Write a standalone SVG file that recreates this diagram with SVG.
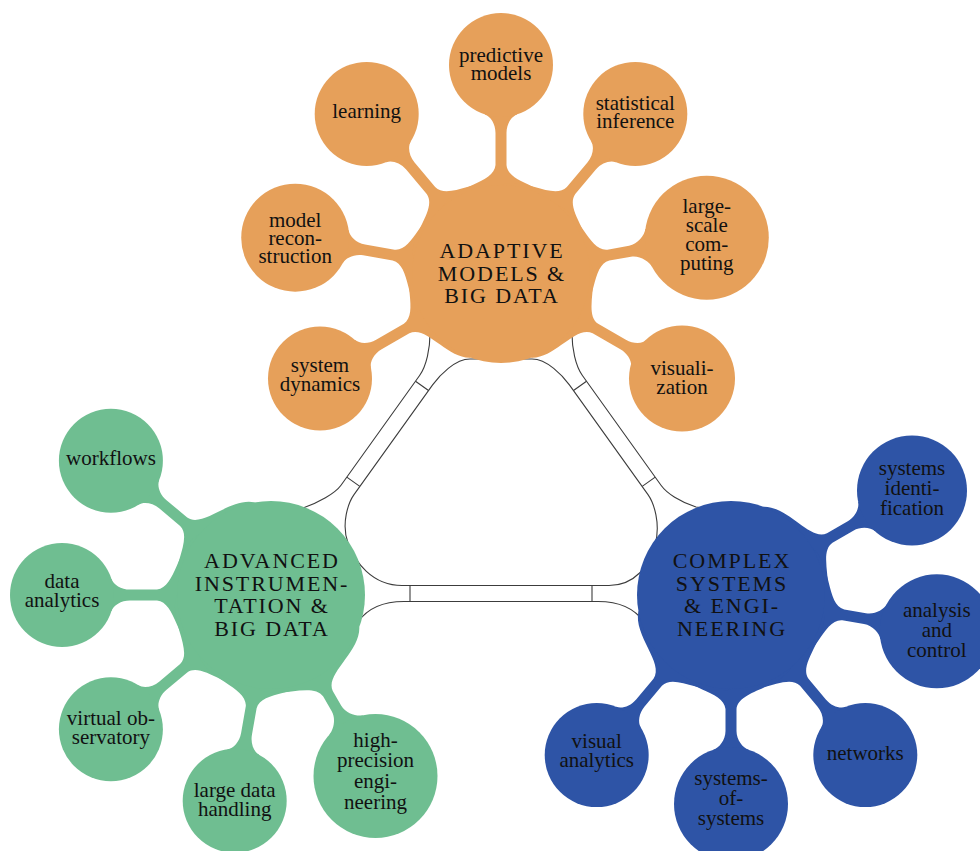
<svg xmlns="http://www.w3.org/2000/svg" width="980" height="851" viewBox="0 0 980 851">
<style>
.o{fill:#E6A05A}.g{fill:#6FBE91}.b{fill:#2E54A6}
.ln{fill:none;stroke:#3c3c3c;stroke-width:1.1}
.t{font-family:"Liberation Serif","Times New Roman",serif;font-size:21px;fill:#111;text-anchor:middle}
.h{font-size:22px;letter-spacing:1.9px}
</style>
<defs>
<path id="nO52" d="M0,0 L68.2,57.2 C89,46.3 90,7 109,5.5 L141,5.5 C150,5.5 157.6,10.4 159.5,16.1 L209,0 L159.5,-16.1 C157.6,-10.4 150,-5.5 141,-5.5 L109,-5.5 C90,-7 89,-46.3 68.2,-57.2 Z"/>
<path id="nO54" d="M0,0 L68.2,57.2 C89,46.3 90,7 109,5.5 L139,5.5 C148,5.5 155.8,11 157.6,16.7 L209,0 L157.6,-16.7 C155.8,-11 148,-5.5 139,-5.5 L109,-5.5 C90,-7 89,-46.3 68.2,-57.2 Z"/>
<path id="nO62" d="M0,0 L68.2,57.2 C89,46.3 90,7 109,5.5 L131,5.5 C140,5.5 148.2,13.5 150,19.2 L209,0 L150,-19.2 C148.2,-13.5 140,-5.5 131,-5.5 L109,-5.5 C90,-7 89,-46.3 68.2,-57.2 Z"/>
<path id="nH52" d="M0,0 L72,60.4 C94,48.9 95,7 114,5.5 L141,5.5 C150,5.5 157.6,10.4 159.5,16.1 L209,0 L159.5,-16.1 C157.6,-10.4 150,-5.5 141,-5.5 L114,-5.5 C95,-7 94,-48.9 72,-60.4 Z"/>
<path id="nH55" d="M0,0 L72,60.4 C94,48.9 95,7 114,5.5 L138,5.5 C147,5.5 154.8,11.3 156.7,17 L209,0 L156.7,-17 C154.8,-11.3 147,-5.5 138,-5.5 L114,-5.5 C95,-7 94,-48.9 72,-60.4 Z"/>
<path id="nH57" d="M0,0 L72,60.4 C94,48.9 95,7 114,5.5 L136,5.5 C145,5.5 152.9,11.9 154.8,17.6 L209,0 L154.8,-17.6 C152.9,-11.9 145,-5.5 136,-5.5 L114,-5.5 C95,-7 94,-48.9 72,-60.4 Z"/>
<path id="nH62" d="M0,0 L72,60.4 C94,48.9 95,7 114,5.5 L131,5.5 C140,5.5 148.2,13.5 150,19.2 L209,0 L150,-19.2 C148.2,-13.5 140,-5.5 131,-5.5 L114,-5.5 C95,-7 94,-48.9 72,-60.4 Z"/>
</defs>
<rect width="980" height="851" fill="#ffffff"/>
<g id="connectors">
  <g id="hub-bars" class="ln">
    <path d="M431,322 L430,334 C430,348 426.6,365.8 419.6,375.5 L341,485.3 C335.2,493.4 318,503 303,508 L296,510"/>
    <path d="M570,322 L572,334 C572,348 575.4,365.8 582.4,375.5 L661,485.3 C666.8,493.4 680,502 696,507 L704,508"/>
    <path d="M470,359 C455,359 439.6,375.2 432.6,384.9 L354,494.6 C348.2,502.7 341,524 348,543 C355,562 372,585.5 402,585.5 L609,585.5 C635,585.5 650,565 655,545 C661,524 653.8,502.7 648,494.6 L569.4,384.9 C562.4,375.2 547,359 532,359 Z"/>
    <path d="M358,622 C367,609 382,601.5 404,601.5 L598,601.5 C620,601.5 635,609 644,622"/>
    <path d="M415.5,381.2 L428.5,390.5 M346.8,477.1 L359.8,486.4 M586.5,381.2 L573.5,390.5 M655.2,477.1 L642.2,486.4 M410,585.5 V601.5 M592,585.5 V601.5"/>
  </g>
  <g id="links-adaptive" class="o">
    <use href="#nO52" transform="translate(501,274) rotate(150)"/>
    <use href="#nO54" transform="translate(501,274) rotate(190)"/>
    <use href="#nO52" transform="translate(501,274) rotate(230)"/>
    <use href="#nO52" transform="translate(501,274) rotate(270)"/>
    <use href="#nO52" transform="translate(501,274) rotate(310)"/>
    <use href="#nO62" transform="translate(501,274) rotate(350)"/>
    <use href="#nO52" transform="translate(501,274) rotate(30)"/>
  </g>
  <g id="links-instrumentation" class="g">
    <use href="#nH52" transform="translate(271,595) rotate(220)"/>
    <use href="#nH52" transform="translate(271,595) rotate(180)"/>
    <use href="#nH52" transform="translate(271,595) rotate(140)"/>
    <use href="#nH52" transform="translate(271,595) rotate(100)"/>
    <use href="#nH62" transform="translate(271,595) rotate(60)"/>
  </g>
  <g id="links-complex" class="b">
    <use href="#nH55" transform="translate(731,595) rotate(330)"/>
    <use href="#nH57" transform="translate(731,595) rotate(10)"/>
    <use href="#nH52" transform="translate(731,595) rotate(50)"/>
    <use href="#nH57" transform="translate(731,595) rotate(90)"/>
    <use href="#nH52" transform="translate(731,595) rotate(130)"/>
  </g>
</g>
<g id="node-adaptive">
  <circle class="o" cx="501" cy="274" r="89"/>
  <text class="t h"><tspan x="502" y="258">ADAPTIVE</tspan><tspan x="502" y="280.5">MODELS &amp;</tspan><tspan x="502" y="303">BIG DATA</tspan></text>
</g>
<g id="node-system-dynamics"><circle class="o" cx="320" cy="378.5" r="52"/><text class="t"><tspan x="320" y="372">system</tspan><tspan x="320" y="391">dynamics</tspan></text></g>
<g id="node-model-reconstruction"><circle class="o" cx="295.2" cy="237.7" r="54"/><text class="t"><tspan x="295.2" y="227">model</tspan><tspan x="295.2" y="245">recon-</tspan><tspan x="295.2" y="263">struction</tspan></text></g>
<g id="node-learning"><circle class="o" cx="366.7" cy="113.9" r="52"/><text class="t" x="366.7" y="118">learning</text></g>
<g id="node-predictive-models"><circle class="o" cx="501" cy="65" r="52"/><text class="t"><tspan x="501" y="62">predictive</tspan><tspan x="501" y="80">models</tspan></text></g>
<g id="node-statistical-inference"><circle class="o" cx="635.3" cy="113.9" r="52"/><text class="t"><tspan x="635.3" y="110">statistical</tspan><tspan x="635.3" y="128">inference</tspan></text></g>
<g id="node-large-scale-computing"><circle class="o" cx="706.8" cy="237.7" r="62"/><text class="t"><tspan x="706.8" y="213">large-</tspan><tspan x="706.8" y="232">scale</tspan><tspan x="706.8" y="251">com-</tspan><tspan x="706.8" y="270">puting</tspan></text></g>
<g id="node-visualization"><circle class="o" cx="682" cy="378.5" r="53"/><text class="t"><tspan x="682" y="375">visuali-</tspan><tspan x="682" y="394">zation</tspan></text></g>

<g id="node-instrumentation">
  <circle class="g" cx="271" cy="595" r="94"/>
  <text class="t h"><tspan x="272" y="568">ADVANCED</tspan><tspan x="272" y="590.5">INSTRUMEN-</tspan><tspan x="272" y="613">TATION &amp;</tspan><tspan x="272" y="635.5">BIG DATA</tspan></text>
</g>
<g id="node-workflows"><circle class="g" cx="110.9" cy="460.7" r="52"/><text class="t" x="110.9" y="465">workflows</text></g>
<g id="node-data-analytics"><circle class="g" cx="62" cy="595" r="52"/><text class="t"><tspan x="62" y="588">data</tspan><tspan x="62" y="607">analytics</tspan></text></g>
<g id="node-virtual-observatory"><circle class="g" cx="110.9" cy="729.3" r="52"/><text class="t"><tspan x="110.9" y="725">virtual ob-</tspan><tspan x="110.9" y="744">servatory</tspan></text></g>
<g id="node-large-data-handling"><circle class="g" cx="234.7" cy="800.8" r="52"/><text class="t"><tspan x="234.7" y="797">large data</tspan><tspan x="234.7" y="816">handling</tspan></text></g>
<g id="node-high-precision-engineering"><circle class="g" cx="375.5" cy="776" r="62"/><text class="t"><tspan x="375.5" y="747">high-</tspan><tspan x="375.5" y="767">precision</tspan><tspan x="375.5" y="788">engi-</tspan><tspan x="375.5" y="809">neering</tspan></text></g>

<g id="node-complex">
  <circle class="b" cx="731" cy="595" r="94"/>
  <text class="t h"><tspan x="732" y="568">COMPLEX</tspan><tspan x="732" y="590.5">SYSTEMS</tspan><tspan x="732" y="613">&amp; ENGI-</tspan><tspan x="732" y="635.5">NEERING</tspan></text>
</g>
<g id="node-systems-identification"><circle class="b" cx="912" cy="490.5" r="55"/><text class="t"><tspan x="912" y="475">systems</tspan><tspan x="912" y="495">identi-</tspan><tspan x="912" y="515">fication</tspan></text></g>
<g id="node-analysis-and-control"><circle class="b" cx="936.8" cy="631.3" r="57"/><text class="t"><tspan x="936.8" y="617">analysis</tspan><tspan x="936.8" y="637">and</tspan><tspan x="936.8" y="657">control</tspan></text></g>
<g id="node-networks"><circle class="b" cx="865.3" cy="755.1" r="52"/><text class="t" x="865.3" y="760">networks</text></g>
<g id="node-systems-of-systems"><circle class="b" cx="731" cy="804" r="57"/><text class="t"><tspan x="731" y="785">systems-</tspan><tspan x="731" y="805">of-</tspan><tspan x="731" y="825">systems</tspan></text></g>
<g id="node-visual-analytics"><circle class="b" cx="596.7" cy="755.1" r="52"/><text class="t"><tspan x="596.7" y="748">visual</tspan><tspan x="596.7" y="767">analytics</tspan></text></g>
</svg>
